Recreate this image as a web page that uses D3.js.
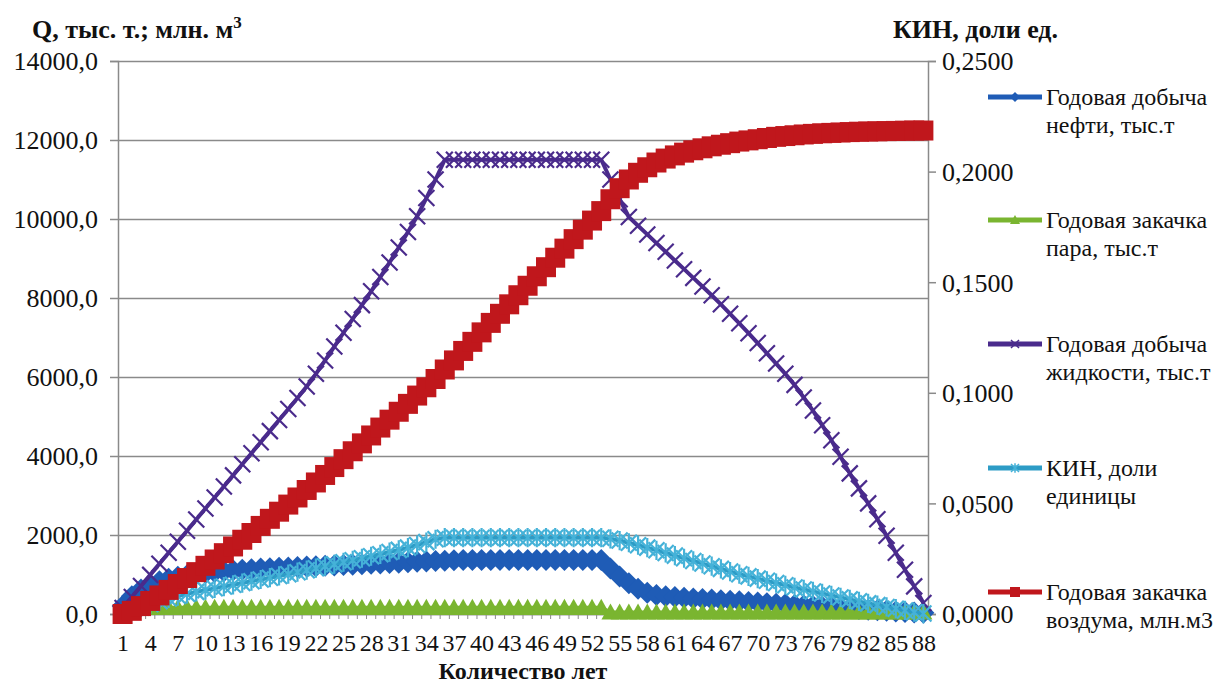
<!DOCTYPE html>
<html>
<head>
<meta charset="utf-8">
<script src="https://cdn.jsdelivr.net/npm/d3@7.9.0/dist/d3.min.js"></script>
<style>
  html, body { margin: 0; padding: 0; background: #fff; }
  svg { display: block; }
  svg text { font-family: "Liberation Serif", "Times New Roman", serif; }
</style>
</head>
<body>
<svg id="chart" width="1216" height="684"></svg>
<script>
// годы
const years = [1,2,3,4,5,6,7,8,9,10,11,12,13,14,15,16,17,18,19,20,21,22,23,24,25,26,27,28,29,30,
  31,32,33,34,35,36,37,38,39,40,41,42,43,44,45,46,47,48,49,50,51,52,53,54,55,56,57,58,59,60,
  61,62,63,64,65,66,67,68,69,70,71,72,73,74,75,76,77,78,79,80,81,82,83,84,85,86,87,88];

// Годовая добыча нефти, тыс.т
const oilProd = [200,450,620,740,830,890,940,980,1010,1040,1065,1085,1105,1120,1135,1150,1160,1170,1180,1190,
  1200,1210,1220,1230,1240,1250,1260,1270,1280,1290,1300,1310,1320,1330,1340,1350,1360,1365,1370,1370,
  1370,1370,1370,1370,1370,1370,1370,1370,1370,1370,1370,1370,1370,1150,950,780,640,540,480,450,
  430,410,395,380,365,350,335,320,305,290,275,260,245,230,215,200,185,170,155,140,125,110,95,80,65,50,40,30];

// Годовая закачка пара, тыс.т
const steamInj = [0,60,130,160,160,160,160,160,160,160,160,160,160,160,160,160,160,160,160,160,
  160,160,160,160,160,160,160,160,160,160,160,160,160,160,160,160,160,160,160,160,
  160,160,160,160,160,160,160,160,160,160,160,160,160,40,40,40,40,40,40,40,
  40,40,40,40,40,40,40,40,40,40,40,40,40,40,40,40,40,40,40,40,40,40,40,40,40,40,40,40];

// Годовая добыча жидкости, тыс.т
const liquidProd = [150,430,710,990,1270,1550,1830,2110,2390,2670,2950,3230,3510,3790,4070,4350,4630,4910,5190,5470,
  5760,6080,6420,6770,7120,7470,7820,8170,8530,8900,9280,9670,10070,10530,11000,11500,11500,11500,11500,11500,
  11500,11500,11500,11500,11500,11500,11500,11500,11500,11500,11500,11500,11500,11000,10500,10050,9830,9610,9390,9170,
  8950,8730,8510,8290,8070,7840,7600,7360,7110,6860,6600,6340,6080,5800,5480,5150,4780,4400,3980,3560,
  3180,2800,2400,1980,1550,1120,700,280];

// КИН, доли единицы (правая ось)
const kin = [0.0000,0.0015,0.0030,0.0045,0.0058,0.0070,0.0081,0.0091,0.0100,0.0108,0.0116,0.0124,0.0132,0.0140,0.0148,0.0156,0.0164,0.0172,0.0180,0.0189,
  0.0198,0.0207,0.0216,0.0225,0.0234,0.0243,0.0252,0.0261,0.0270,0.0280,0.0290,0.0300,0.0312,0.0325,0.0338,0.0345,0.0345,0.0345,0.0345,0.0345,
  0.0345,0.0345,0.0345,0.0345,0.0345,0.0345,0.0345,0.0345,0.0345,0.0345,0.0345,0.0345,0.0345,0.0340,0.0332,0.0322,0.0311,0.0300,0.0288,0.0276,
  0.0264,0.0252,0.0240,0.0228,0.0216,0.0204,0.0192,0.0180,0.0170,0.0160,0.0150,0.0140,0.0130,0.0120,0.0111,0.0102,0.0093,0.0084,0.0075,0.0066,
  0.0057,0.0048,0.0040,0.0032,0.0024,0.0016,0.0008,0.0002];

// Годовая закачка воздума, млн.м3
const airInj = [0,80,200,330,470,610,760,910,1060,1220,1380,1540,1710,1880,2050,2230,2410,2590,2770,2950,
  3140,3330,3520,3720,3920,4120,4320,4520,4720,4920,5120,5320,5530,5740,5950,6190,6420,6660,6890,7130,
  7370,7600,7840,8070,8310,8550,8780,9020,9250,9490,9730,9960,10200,10500,10780,11000,11170,11310,11430,11530,
  11610,11680,11740,11790,11840,11880,11920,11960,11990,12020,12050,12080,12100,12120,12140,12155,12170,12180,12190,12200,
  12210,12215,12220,12225,12230,12235,12240,12240];

const leftTicks = [0,2000,4000,6000,8000,10000,12000,14000];
const rightTicks = [0,0.05,0.10,0.15,0.20,0.25];
const xLabelYears = years.filter(y => (y - 1) % 3 === 0);

const series = [
  { name: ['Годовая добыча', 'нефти, тыс.т'], values: oilProd, axis: 'left', color: '#1f5cb6', marker: 'diamond' },
  { name: ['Годовая закачка', 'пара, тыс.т'], values: steamInj, axis: 'left', color: '#7ab530', marker: 'triangle' },
  { name: ['Годовая добыча', 'жидкости, тыс.т'], values: liquidProd, axis: 'left', color: '#4a2b8c', marker: 'times' },
  { name: ['КИН, доли', 'единицы'], values: kin, axis: 'right', color: '#2d9cc6', marker: 'star' },
  { name: ['Годовая закачка', 'воздума, млн.м3'], values: airInj, axis: 'left', color: '#c0171c', marker: 'square' }
];

const svg = d3.select('#chart');
const plot = { left: 118, right: 928, top: 61, bottom: 614 };

const x = d3.scalePoint().domain(years).range([plot.left, plot.right]).padding(0.5);
const yL = d3.scaleLinear().domain([0, 14000]).range([plot.bottom, plot.top]);
const yR = d3.scaleLinear().domain([0, 0.25]).range([plot.bottom, plot.top]);

const gridColor = '#8a8a8a';
const FONT = '"Liberation Serif", "Times New Roman", serif';
const comma = f => v => f(v).replace('.', ',');

// сетка
svg.append('g')
  .attr('transform', `translate(${plot.left},0)`)
  .call(d3.axisLeft(yL).tickValues(leftTicks).tickSize(-(plot.right - plot.left)).tickFormat(''))
  .call(g => g.select('.domain').remove())
  .call(g => g.selectAll('line').attr('stroke', gridColor).attr('stroke-width', 1.5));

// левая ось
svg.append('g')
  .attr('transform', `translate(${plot.left},0)`)
  .call(d3.axisLeft(yL).tickValues(leftTicks).tickSize(8).tickPadding(12).tickFormat(comma(d3.format('.1f'))))
  .attr('font-family', FONT)
  .call(g => g.select('.domain').attr('stroke', gridColor).attr('stroke-width', 1.5))
  .call(g => g.selectAll('line').attr('stroke', gridColor).attr('stroke-width', 1.5))
  .call(g => g.selectAll('text').attr('font-size', 26).attr('fill', '#111').attr('dy', '0.34em'));

// правая ось
svg.append('g')
  .attr('transform', `translate(${plot.right},0)`)
  .call(d3.axisRight(yR).tickValues(rightTicks).tickSize(8).tickPadding(6).tickFormat(comma(d3.format('.4f'))))
  .attr('font-family', FONT)
  .call(g => g.select('.domain').attr('stroke', gridColor).attr('stroke-width', 1.5))
  .call(g => g.selectAll('line').attr('stroke', gridColor).attr('stroke-width', 1.5))
  .call(g => g.selectAll('text').attr('font-size', 26).attr('fill', '#111').attr('dy', '0.34em'));

// ось X
const step = x.step();
svg.append('g')
  .attr('transform', `translate(0,${plot.bottom})`)
  .call(d3.axisBottom(x).tickValues(xLabelYears).tickSize(0).tickPadding(20))
  .attr('font-family', FONT)
  .call(g => g.select('.domain').attr('stroke', gridColor).attr('stroke-width', 1.5))
  .call(g => g.selectAll('text').attr('font-size', 24).attr('fill', '#111'));

svg.append('g')
  .selectAll('line')
  .data(d3.range(years.length + 1))
  .join('line')
  .attr('x1', k => plot.left + k * step)
  .attr('x2', k => plot.left + k * step)
  .attr('y1', plot.bottom)
  .attr('y2', plot.bottom + 5)
  .attr('stroke', gridColor)
  .attr('stroke-width', 1);

// маркеры
function markerPath(type, s) {
  switch (type) {
    case 'diamond': return `M0,${-s}L${s},0L0,${s}L${-s},0Z`;
    case 'triangle': return `M0,${-s}L${s},${s * 0.8}L${-s},${s * 0.8}Z`;
    case 'square': return `M${-s},${-s}H${s}V${s}H${-s}Z`;
    case 'times': return `M${-s},${-s}L${s},${s}M${-s},${s}L${s},${-s}`;
    case 'star': return `M${-s},${-s}L${s},${s}M${-s},${s}L${s},${-s}M0,${-s * 1.2}V${s * 1.2}`;
  }
}
const markerSize = { diamond: 11, triangle: 9, square: 10, times: 8, star: 8 };
const filled = t => t === 'diamond' || t === 'triangle' || t === 'square';

series.forEach(s => {
  const yScale = s.axis === 'left' ? yL : yR;
  const pts = years.map((yr, i) => [x(yr), yScale(s.values[i])]);
  const g = svg.append('g');
  g.append('path')
    .attr('d', d3.line()(pts))
    .attr('fill', 'none')
    .attr('stroke', s.color)
    .attr('stroke-width', 4)
    .attr('stroke-linejoin', 'round');
  g.selectAll('path.m')
    .data(pts)
    .join('path')
    .attr('class', 'm')
    .attr('transform', d => `translate(${d[0]},${d[1]})`)
    .attr('d', markerPath(s.marker, markerSize[s.marker]))
    .attr('fill', filled(s.marker) ? s.color : 'none')
    .attr('stroke', s.marker === 'star' ? '#45b2d8' : s.color)
    .attr('stroke-width', filled(s.marker) ? 0 : 2.2);
});

// легенда
const legendY = [97, 220, 344, 468, 592];
const legend = svg.append('g');
series.forEach((s, i) => {
  const ly = legendY[i];
  legend.append('line')
    .attr('x1', 988).attr('x2', 1042).attr('y1', ly).attr('y2', ly)
    .attr('stroke', s.color).attr('stroke-width', 5);
  legend.append('path')
    .attr('transform', `translate(1015,${ly})`)
    .attr('d', markerPath(s.marker, filled(s.marker) ? 5 : 4))
    .attr('fill', filled(s.marker) ? s.color : 'none')
    .attr('stroke', s.marker === 'star' ? '#45b2d8' : s.color)
    .attr('stroke-width', filled(s.marker) ? 0 : 1.5);
  const t = legend.append('text')
    .attr('x', 1046).attr('y', ly + 8)
    .attr('font-family', FONT)
    .attr('font-size', 24).attr('fill', '#111');
  t.append('tspan').attr('x', 1046).text(s.name[0]);
  t.append('tspan').attr('x', 1046).attr('dy', 28).text(s.name[1]);
});

// подписи осей
const leftTitle = svg.append('text')
  .attr('x', 32).attr('y', 38)
  .attr('font-family', FONT)
  .attr('font-size', 26).attr('font-weight', 'bold').attr('fill', '#111')
  .text('Q, тыс. т.; млн. м');
leftTitle.append('tspan').attr('dy', -10).attr('font-size', 17).text('3');

svg.append('text')
  .attr('x', 893).attr('y', 38)
  .attr('font-family', FONT)
  .attr('font-size', 26).attr('font-weight', 'bold').attr('fill', '#111')
  .text('КИН, доли ед.');

svg.append('text')
  .attr('x', (plot.left + plot.right) / 2).attr('y', 678.5)
  .attr('text-anchor', 'middle')
  .attr('font-family', FONT)
  .attr('font-size', 24).attr('font-weight', 'bold').attr('fill', '#111')
  .text('Количество лет');
</script>
</body>
</html>
